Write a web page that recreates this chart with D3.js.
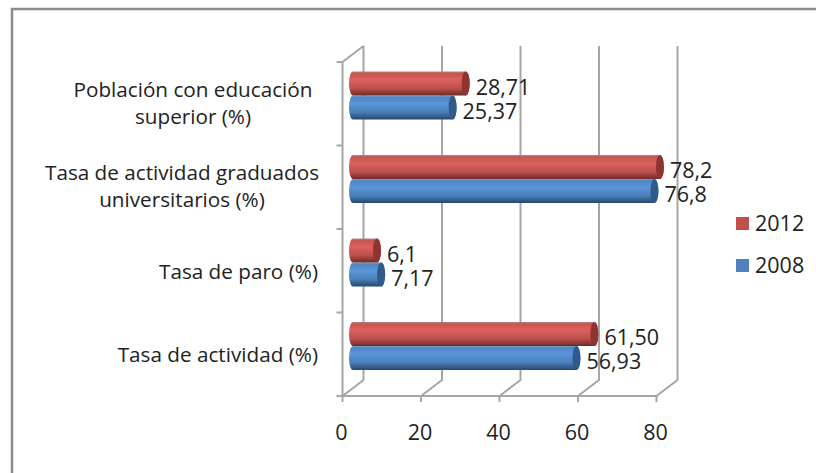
<!DOCTYPE html>
<html lang="es">
<head>
<meta charset="UTF-8">
<title>Tasas 2008 - 2012</title>
<script src="https://d3js.org/d3.v7.min.js"></script>
<style>
  body { margin: 0; background: #fff; }
  svg { display: block; }
  text { font-family: "Open Sans", sans-serif; fill: #222; }
</style>
</head>
<body>
<svg id="chart" width="816" height="473"></svg>
<script>
const categories = [
  ["Población con educación", "superior (%)"],
  ["Tasa de actividad graduados", "universitarios (%)"],
  ["Tasa de paro (%)"],
  ["Tasa de actividad (%)"]
];
const values2012 = [28.71, 78.2, 6.1, 61.50];
const values2008 = [25.37, 76.8, 7.17, 56.93];
const labels2012 = ["28,71", "78,2", "6,1", "61,50"];
const labels2008 = ["25,37", "76,8", "7,17", "56,93"];
const xTicks = [0, 20, 40, 60, 80];
const seriesNames = ["2012", "2008"];

const svg = d3.select("#chart");
const x = d3.scaleLinear().domain([0, 80]).range([342.5, 656.5]);
const y = d3.scaleBand().domain(d3.range(categories.length)).range([62, 396]);
const depthX = 21, depthY = -16;
const grey = "#a6a6a6";

// gradients for the cylinders
const defs = svg.append("defs");
function cylinderGradient(id, stops) {
  const g = defs.append("linearGradient").attr("id", id)
    .attr("x1", 0).attr("x2", 0).attr("y1", 0).attr("y2", 1);
  stops.forEach(s => g.append("stop").attr("offset", s[0]).attr("stop-color", s[1]));
}
cylinderGradient("red", [[0, "#b9837f"], [0.08, "#c65552"], [0.35, "#db615e"], [0.7, "#bd4f4c"], [1, "#6e2a28"]]);
cylinderGradient("blue", [[0, "#7f9cc0"], [0.08, "#4f86c6"], [0.35, "#5b96d8"], [0.7, "#4a7db9"], [1, "#27476e"]]);

// frame, only top and left sides show
svg.append("path").attr("d", "M12,473V9H816").attr("fill", "none")
  .attr("stroke", "#8c8c8c").attr("stroke-width", 2.5);

// 3d walls
const walls = svg.append("g").attr("fill", "none").attr("stroke", grey).attr("stroke-width", 2);
walls.selectAll(".grid").data(xTicks).join("path").attr("class", "grid")
  .attr("d", d => `M${x(d)},396l${depthX},${depthY}V${62 + depthY}`);
walls.append("path").attr("d", `M${x(0)},396H${x(80)}`);
walls.append("path").attr("d", `M${x(0)},396V62l${depthX},${depthY}`);
walls.selectAll(".tickx").data(xTicks).join("path").attr("class", "tickx")
  .attr("d", d => `M${x(d)},396v6`);
walls.selectAll(".ticky").data(d3.range(categories.length + 1)).join("path").attr("class", "ticky")
  .attr("d", i => `M${x(0) - 6},${62 + i * y.step()}h6`);

svg.selectAll(".xlabel").data(xTicks).join("text").attr("class", "xlabel")
  .attr("x", d => x(d) - 1).attr("y", 440).attr("text-anchor", "middle")
  .attr("font-size", 21.5).text(d => d);

// category labels
categories.forEach((lines, i) => {
  const cx = lines.length > 1 ? 182 : 318;
  const anchor = lines.length > 1 ? "middle" : "end";
  svg.append("text").attr("text-anchor", anchor).attr("font-size", 20.7)
    .selectAll("tspan").data(lines).join("tspan")
    .attr("x", i === 0 ? 193 : cx)
    .attr("y", (d, k) => y(i) + y.bandwidth() / 2 + (lines.length > 1 ? -7 + k * 27 : 8))
    .text(d => d);
});

// cylinders
const barH = 24, capX = 4, shift = 10.5;
function drawSeries(values, labels, fill, capFill, top) {
  const g = svg.append("g");
  values.forEach((v, i) => {
    const y0 = y(i) + top, x0 = x(0) + shift, x1 = x(v) + shift;
    g.append("path").attr("fill", `url(#${fill})`)
      .attr("d", `M${x0},${y0}H${x1}A${capX},${barH / 2} 0 0 1 ${x1},${y0 + barH}H${x0}A${capX},${barH / 2} 0 0 1 ${x0},${y0}Z`);
    g.append("ellipse").attr("cx", x1).attr("cy", y0 + barH / 2)
      .attr("rx", capX).attr("ry", barH / 2).attr("fill", capFill);
    g.append("text").attr("x", x1 + capX + 6).attr("y", y0 + barH / 2 + 11)
      .attr("font-size", 21.5).text(labels[i]);
  });
}
drawSeries(values2008, labels2008, "blue", "#30598c", 33.5);
drawSeries(values2012, labels2012, "red", "#8e3432", 9.5);

// legend
const legendY = d3.scalePoint().domain(seriesNames).range([224, 266]);
const legend = svg.selectAll(".legend").data(seriesNames).join("g").attr("class", "legend")
  .attr("transform", d => `translate(736,${legendY(d)})`);
legend.append("rect").attr("y", -7).attr("width", 13).attr("height", 13)
  .attr("fill", (d, i) => i ? "#4f81bd" : "#c0504d");
legend.append("text").attr("x", 19).attr("y", 7).attr("font-size", 21.5).text(d => d);
</script>
</body>
</html>
